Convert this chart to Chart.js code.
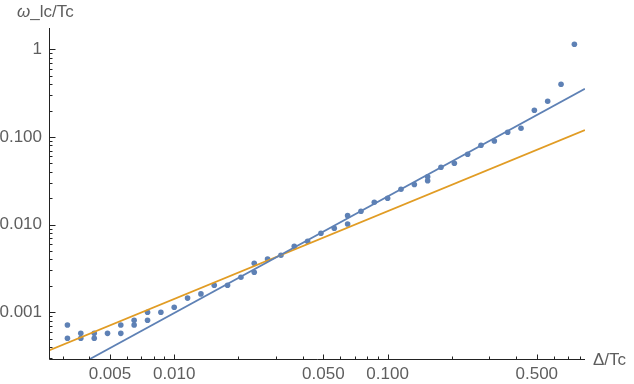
<!DOCTYPE html>
<html lang="en">
<head>
  <meta charset="UTF-8">
  <script src="https://cdn.jsdelivr.net/npm/chart.js"></script>
  <title>omega vs Delta</title>
  <style>
    body{margin:0; background:#fff;}
    #wrap{width:634px; height:384px;}
  </style>
</head>
<body>
<div id="wrap"><canvas id="myChart" width="634" height="384"></canvas></div>
<script>
  // measured points (Delta/Tc, omega/Tc)
  const deltaVals = [
    0.00316, 0.00316, 0.00365, 0.00365, 0.00422, 0.00422, 0.00487, 0.00562, 0.00562,
    0.00649, 0.00649, 0.0075, 0.0075, 0.00866, 0.01, 0.01155, 0.01334, 0.0154, 0.01778,
    0.02054, 0.02371, 0.02371, 0.02738, 0.03162, 0.03652, 0.04217, 0.0487, 0.05623,
    0.06494, 0.06494, 0.075, 0.0866, 0.1, 0.1155, 0.1334, 0.154, 0.154, 0.1778, 0.2054,
    0.2371, 0.2738, 0.3162, 0.3652, 0.4217, 0.487, 0.5623, 0.6494, 0.75
  ];
  const omegaVals = [
    0.000716, 0.000505, 0.000575, 0.000505, 0.000575, 0.000505, 0.000575, 0.000716, 0.000575,
    0.00081, 0.000716, 0.001, 0.00081, 0.001, 0.00114, 0.00145, 0.00162, 0.00203, 0.00203,
    0.00251, 0.00363, 0.00286, 0.00406, 0.00447, 0.00566, 0.00645, 0.00796, 0.00908,
    0.01265, 0.01016, 0.01419, 0.01797, 0.01996, 0.0253, 0.0287, 0.0352, 0.0317, 0.0451, 0.0501,
    0.0636, 0.0805, 0.0899, 0.113, 0.1256, 0.202, 0.2552, 0.400, 1.14
  ];

  // fit lines, end points
  const fitBlueX = [0.00403, 0.84];
  const fitBlueY = [0.000293, 0.355];
  const fitOrangeX = [0.00259, 0.84];
  const fitOrangeY = [0.000366, 0.120];

  const xTicks = [0.005, 0.01, 0.05, 0.1, 0.5];
  const yTicks = [0.001, 0.01, 0.1, 1];

  const blue = 'rgb(94,129,181)';
  const orange = 'rgb(225,156,36)';
  const labelColor = '#5e5e5e';
  const font = '"Liberation Sans", Arial, sans-serif';
  const fsize = 17;

  const toXY = (xs, ys) => xs.map((v, i) => ({x: v, y: ys[i]}));

  // Mathematica style axes: ticks pointing inwards
  const mmaAxes = {
    id: 'mmaAxes',
    afterDraw(chart){
      const {ctx, chartArea: a, scales: {x, y}} = chart;
      const ax = Math.round(a.left) + 0.5;
      const ay = Math.round(a.bottom) + 0.5;
      ctx.save();
      ctx.strokeStyle = '#222';
      ctx.lineWidth = 1;
      ctx.beginPath();
      ctx.moveTo(ax, a.top);
      ctx.lineTo(ax, ay);
      ctx.lineTo(a.right, ay);
      ctx.stroke();

      ctx.beginPath();
      for (const d of [0.001, 0.01, 0.1]) {
        for (let m = 1; m <= 9; m++) {
          const v = m * d;
          if (v < x.min || v > x.max) continue;
          const px = Math.round(x.getPixelForValue(v)) + 0.5;
          const len = (m === 1 || m === 5) ? 5 : 3;
          ctx.moveTo(px, ay);
          ctx.lineTo(px, ay - len);
        }
      }
      for (const d of [0.0001, 0.001, 0.01, 0.1, 1]) {
        for (let m = 1; m <= 9; m++) {
          const v = m * d;
          if (v < y.min || v > y.max) continue;
          const py = Math.round(y.getPixelForValue(v)) + 0.5;
          const len = m === 1 ? 6 : 3;
          ctx.moveTo(ax, py);
          ctx.lineTo(ax + len, py);
        }
      }
      ctx.stroke();

      // axis titles
      ctx.fillStyle = labelColor;
      ctx.textBaseline = 'middle';
      ctx.textAlign = 'left';
      ctx.font = 'italic ' + fsize + 'px ' + font;
      ctx.fillText('ω', 17, 12);
      const w = ctx.measureText('ω').width;
      ctx.font = fsize + 'px ' + font;
      ctx.fillText('_lc/Tc', 17 + w, 12);
      ctx.fillText('Δ/Tc', 593, 360);
      ctx.restore();
    }
  };

  const ctx = document.getElementById('myChart');
  new Chart(ctx, {
    type: 'scatter',
    data: {
      datasets: [
        {
          label: 'fit 1',
          type: 'line',
          data: toXY(fitBlueX, fitBlueY),
          borderColor: blue,
          borderWidth: 1.8,
          pointRadius: 0,
          fill: false,
          order: 1
        },
        {
          label: 'fit 2',
          type: 'line',
          data: toXY(fitOrangeX, fitOrangeY),
          borderColor: orange,
          borderWidth: 1.8,
          pointRadius: 0,
          fill: false,
          order: 2
        },
        {
          label: 'data',
          data: toXY(deltaVals, omegaVals),
          backgroundColor: blue,
          borderWidth: 0,
          pointRadius: 2.8,
          order: 3
        }
      ]
    },
    options: {
      responsive: false,
      animation: false,
      devicePixelRatio: 1,
      layout: {padding: {top: 28, right: 49, left: 0, bottom: 0}},
      plugins: {legend: {display: false}, tooltip: {enabled: false}},
      scales: {
        x: {
          type: 'logarithmic',
          min: 0.00259,
          max: 0.841,
          border: {display: false},
          grid: {display: false, drawTicks: false},
          afterBuildTicks: s => { s.ticks = xTicks.map(v => ({value: v})); },
          afterFit: s => { s.height = 25; },
          ticks: {
            autoSkip: false,
            maxRotation: 0,
            padding: 5,
            color: labelColor,
            font: {family: font, size: fsize},
            callback: v => Number(v).toFixed(3)
          }
        },
        y: {
          type: 'logarithmic',
          min: 0.000293,
          max: 1.75,
          border: {display: false},
          grid: {display: false, drawTicks: false},
          afterBuildTicks: s => { s.ticks = yTicks.map(v => ({value: v})); },
          afterFit: s => { s.width = 49; },
          ticks: {
            autoSkip: false,
            padding: 7,
            color: labelColor,
            font: {family: font, size: fsize},
            callback: v => v >= 1 ? String(v) : Number(v).toFixed(3)
          }
        }
      }
    },
    plugins: [mmaAxes]
  });
</script>
</body>
</html>
